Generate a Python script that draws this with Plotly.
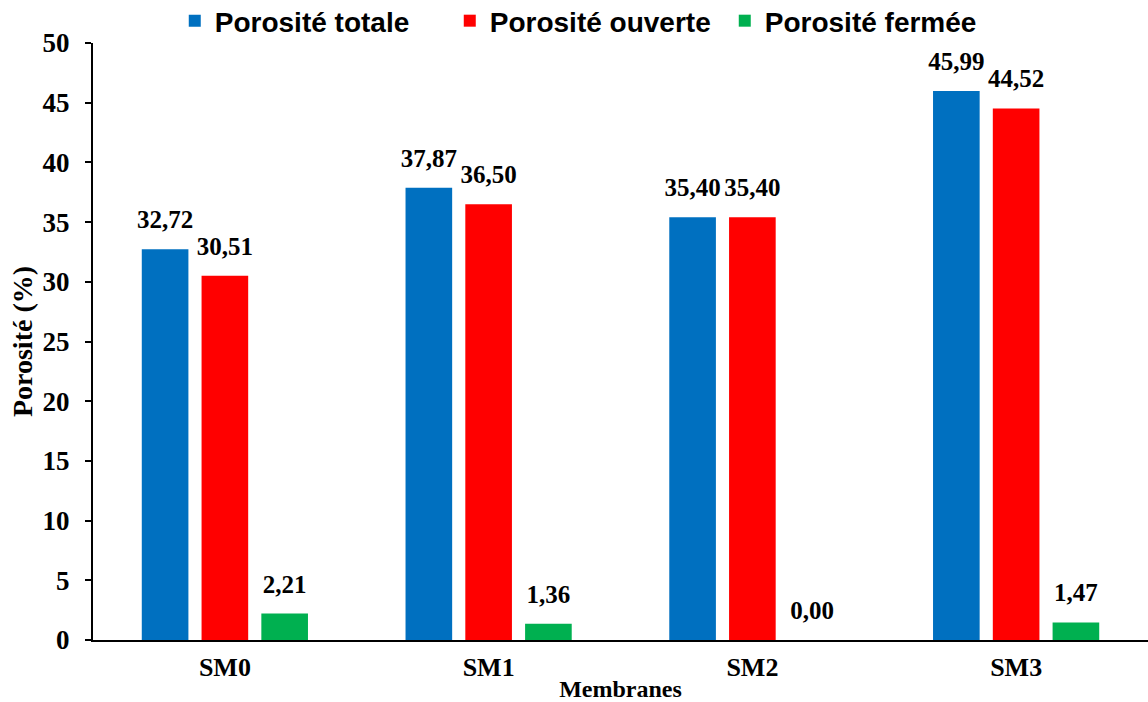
import plotly.graph_objects as go

membranes = ["SM0", "SM1", "SM2", "SM3"]
porosite_totale = [32.72, 37.87, 35.40, 45.99]
porosite_ouverte = [30.51, 36.50, 35.40, 44.52]
porosite_fermee = [2.21, 1.36, 0.00, 1.47]

series = [
    ("Porosité totale", porosite_totale, "#0070C0"),
    ("Porosité ouverte", porosite_ouverte, "#FF0000"),
    ("Porosité fermée", porosite_fermee, "#00B050"),
]

serif = "Liberation Serif, Times New Roman, serif"
sans = "Liberation Sans, Arial, sans-serif"
GAP = 0.32


def fmt(v):
    # French decimal comma
    return f"{v:.2f}".replace(".", ",")


fig = go.Figure()
for i, (name, vals, color) in enumerate(series):
    fig.add_trace(go.Bar(
        x=membranes, y=vals, name=name,
        marker=dict(color=color, line=dict(width=0)),
        offsetgroup=str(i),
    ))

# Value labels: grouped text points sitting above each bar
for i, (name, vals, color) in enumerate(series):
    fig.add_trace(go.Scatter(
        x=membranes, y=vals, mode="markers+text",
        text=[fmt(v) for v in vals], textposition="top center",
        textfont=dict(family=serif, size=25, color="black", weight="bold"),
        marker=dict(size=22, color="rgba(0,0,0,0)"),
        offsetgroup=str(i), showlegend=False, hoverinfo="skip",
        cliponaxis=False,
    ))

fig.update_layout(
    width=1148, height=702,
    margin=dict(l=93, r=0, t=43, b=62, autoexpand=False),
    paper_bgcolor="white", plot_bgcolor="white",
    barmode="group", bargap=GAP, bargroupgap=0.22,
    scattermode="group", scattergap=GAP,
    legend=dict(
        orientation="h", x=0.0775, xanchor="left", y=0.995, yanchor="bottom",
        font=dict(family=sans, size=28, color="black", weight="bold"),
        itemwidth=30, tracegroupgap=0, entrywidth=230,
    ),
    xaxis=dict(
        showline=True, linecolor="black", linewidth=2,
        ticks="", showgrid=False, ticklabelstandoff=3,
        tickfont=dict(family=serif, size=26, color="black", weight="bold"),
        title=dict(text="Membranes", standoff=0,
                   font=dict(family=serif, size=24, color="black", weight="bold")),
    ),
    yaxis=dict(
        range=[0, 50], dtick=5,
        showline=True, linecolor="black", linewidth=2,
        ticks="outside", ticklen=6, tickwidth=2, tickcolor="black",
        ticklabelstandoff=10,
        showgrid=False, zeroline=False,
        tickfont=dict(family=serif, size=27, color="black", weight="bold"),
        title=dict(text="Porosité (%)", standoff=2,
                   font=dict(family=serif, size=28, color="black", weight="bold")),
    ),
)

fig.write_html("out.html")
